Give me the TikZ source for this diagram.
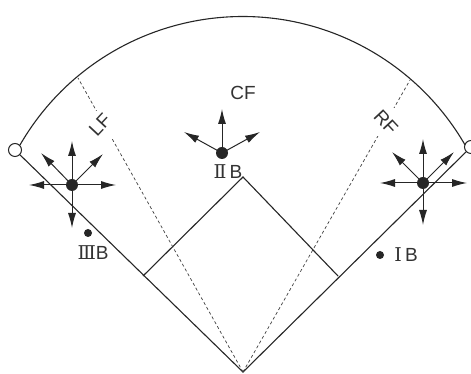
\documentclass[tikz,border=0pt]{standalone}
\usepackage{fontspec}
\setmainfont{Liberation Sans}
\newfontfamily\romanfont{DejaVu Serif}
\usetikzlibrary{arrows.meta}
\tikzset{
  x=1pt,y=1pt,
  line/.style={draw=black!85,line width=1.1pt},
  foul/.style={draw=black!85,line width=1.1pt},
  dashline/.style={draw=black!75,line width=0.7pt,dash pattern=on 3pt off 2.5pt},
  mv/.style={draw=black!85,line width=1pt,-{Latex[length=15pt,width=8pt]}},
  player/.style={circle,fill=black!85,inner sep=0pt,minimum size=12pt},
  smalldot/.style={circle,fill=black!85,inner sep=0pt,minimum size=8pt},
  base/.style={circle,draw=black!85,fill=white,line width=1pt,inner sep=0pt,minimum size=13pt},
  lab/.style={text=black!80,font=\fontsize{19}{19}\selectfont,inner sep=0pt}
}
\begin{document}
\begin{tikzpicture}
\useasboundingbox (0,0) rectangle (471,374);
\fill[white] (0,0) rectangle (471,374);
% field
\coordinate (home) at (243,2);
\coordinate (first) at (338,98);
\coordinate (second) at (243,197);
\coordinate (third) at (143,98);
\coordinate (lfend) at (78,296);
\coordinate (rfend) at (410,294);
\node[base] (lb) at (15,224) {};
\node[base] (rb) at (471,227) {};
\draw[foul] (lb) -- (home) -- (rb);
\draw[line] (third) -- (second) -- (first);
\draw[dashline] (home) -- (lfend);
\draw[dashline] (home) -- (rfend);
\draw[line] (lb.45) arc[start angle=150,end angle=30,radius=257];
% left fielder
\node[player] (p3) at (72,189) {};
\coordinate (p3u) at (72,233);
\coordinate (p3ul) at (41,221);
\coordinate (p3ur) at (103,220);
\coordinate (p3l) at (29,189);
\coordinate (p3r) at (116,189);
\coordinate (p3d) at (72,146);
\foreach \t in {p3u,p3ul,p3ur,p3l,p3r,p3d} \draw[mv] (p3.center) -- (\t);
% centre fielder
\node[player] (p2) at (222,221) {};
\coordinate (p2u) at (222,265);
\coordinate (p2ul) at (184,242);
\coordinate (p2ur) at (260,242);
\foreach \t in {p2u,p2ul,p2ur} \draw[mv] (p2.center) -- (\t);
% right fielder
\node[player] (p1) at (423,191) {};
\coordinate (p1u) at (423,235);
\coordinate (p1ul) at (392,222);
\coordinate (p1ur) at (454,222);
\coordinate (p1l) at (380,191);
\coordinate (p1r) at (467,191);
\coordinate (p1d) at (423,149);
\foreach \t in {p1u,p1ul,p1ur,p1l,p1r,p1d} \draw[mv] (p1.center) -- (\t);
% dots
\node[smalldot] (d3) at (88,141) {};
\node[smalldot] (d1) at (380,119) {};
% labels
\node[lab,fill=white,inner sep=1pt] (lf) at (100,249) {\rotatebox{47}{LF}};
\node[lab,fill=white,inner sep=0pt] (rf) at (386,252) {\rotatebox{-47}{RF}};
\node[lab] (cf) at (243,281) {CF};
\node[lab] (b2) at (228,202) {{\romanfont Ⅱ}\,B};
\node[lab] (b3) at (93,121) {{\romanfont Ⅲ}B};
\node[lab] (b1) at (406,119) {{\romanfont Ⅰ}\,B};
\end{tikzpicture}
\end{document}
